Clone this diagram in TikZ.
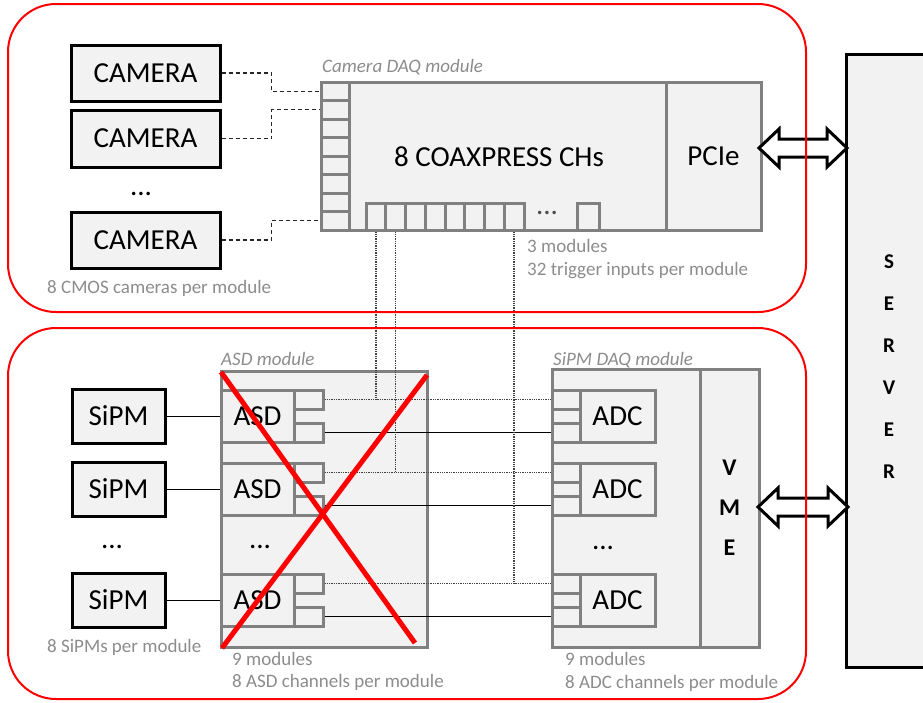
\documentclass[tikz,border=0pt]{standalone}
\usepackage{fontspec}
\setmainfont{Carlito}
\usetikzlibrary{calc}
\definecolor{boxfill}{HTML}{F2F2F2}
\definecolor{boxline}{HTML}{808080}
\definecolor{notegray}{HTML}{8C8C8C}
\newcommand\dgmBig{\fontsize{29}{34}\selectfont}
\newcommand\dgmNote{\fontsize{19}{23}\selectfont}
\begin{document}
\begin{tikzpicture}[x=1pt,y=-1pt,
  blkbox/.style={draw=black, line width=3pt, fill=boxfill, inner sep=0pt, font=\dgmBig},
  gbox/.style={draw=boxline, line width=3pt, fill=boxfill, inner sep=0pt, font=\dgmBig},
  note/.style={text=notegray, font=\dgmNote, anchor=base west, inner sep=0pt},
  modlabel/.style={text=notegray, font=\dgmNote\itshape, anchor=base west, inner sep=0pt},
  dots/.style={font=\dgmBig, inner sep=0pt},
  dashconn/.style={draw=black!85, line width=1.2pt, dash pattern=on 4pt off 3pt},
  dotconn/.style={draw=black!75, line width=1.3pt, dash pattern=on 1.3pt off 1pt},
  solidconn/.style={draw=black, line width=1pt},
  redframe/.style={draw=red, line width=2pt, rounded corners=48pt},
  cross/.style={draw=red, line width=5pt},
  bigarrow/.style={draw=black, line width=3pt, fill=white, line join=miter}]
\useasboundingbox (0,0) rectangle (923,702);

% ---------- Cameras ----------
\node[blkbox, minimum width=149pt, minimum height=56pt] (cam1) at (145.5,73) {CAMERA};
\node[blkbox, minimum width=149pt, minimum height=57pt] (cam2) at (145.5,138.5) {CAMERA};
\node[blkbox, minimum width=149pt, minimum height=56pt] (cam3) at (145.5,240) {CAMERA};
\node[dots] (camdots) at (141,194) {...};
\node[note] (camnote) at (47,293) {8 CMOS cameras per module};

% ---------- Camera DAQ module ----------
\node[modlabel] (camlabel) at (322,72) {Camera DAQ module};
\node[gbox, minimum width=440pt, minimum height=148pt] (camdaq) at (541,156) {};
\node[gbox, minimum width=95pt, minimum height=148pt] (pcie) at (713.5,156) {PCIe};
\node[font=\dgmBig, inner sep=0pt] (coax) at (499,157) {8 COAXPRESS CHs};
\foreach \i in {1,...,8}
  \node[gbox, minimum width=28pt, minimum height=18.5pt] (cp\i) at (335,{82+18.5*\i-9.25}) {};
\foreach \i in {1,...,8}
  \node[gbox, minimum width=19.75pt, minimum height=27pt] (tp\i) at ({366+19.75*\i-9.875},216.5) {};
\node[gbox, minimum width=22pt, minimum height=27pt] (tp9) at (588,216.5) {};
\node[dots, text=black!70] (tpdots) at (547,213) {...};
\node[note] (trignote1) at (527,252) {3 modules};
\node[note] (trignote2) at (527,275) {32 trigger inputs per module};

% camera links
\draw[dashconn] (cam1.east) -- ++(50,0) |- (cp1.west);
\draw[dashconn] (cam2.east) -- ++(50,0) |- (cp2.west);
\draw[dashconn] (cam3.east) -- ++(50,0) |- (cp8.west);

% ---------- SiPMs ----------
\node[blkbox, minimum width=93pt, minimum height=54pt] (sipm1) at (118.5,416) {SiPM};
\node[blkbox, minimum width=93pt, minimum height=54pt] (sipm2) at (118.5,489) {SiPM};
\node[blkbox, minimum width=93pt, minimum height=54pt] (sipm3) at (118.5,600) {SiPM};
\node[dots] (sipmdots) at (112,547) {...};
\node[note] (sipmnote) at (47,652) {8 SiPMs per module};

% ---------- ASD module ----------
\node[modlabel] (asdlabel) at (221,365) {ASD module};
\node[gbox, minimum width=206pt, minimum height=276pt] (asdmod) at (324,509) {};
\foreach \i/\c in {1/416,2/489,3/600} {
  \node[gbox, minimum width=73pt, minimum height=52pt] (asd\i) at (257.5,\c) {ASD};
  \node[gbox, minimum width=29pt, minimum height=19pt] (asdu\i) at (308.5,\c-16.5) {};
  \node[gbox, minimum width=29pt, minimum height=19pt] (asdl\i) at (308.5,\c+16.5) {};
}
\node[dots] (asddots) at (260,547) {...};
\node[note] (asdnote1) at (232,665) {9 modules};
\node[note] (asdnote2) at (232,687) {8 ASD channels per module};

% ---------- SiPM DAQ module ----------
\node[modlabel] (sdaqlabel) at (553,365) {SiPM DAQ module};
\node[gbox, minimum width=207pt, minimum height=278pt] (sdaq) at (655.5,508) {};
\node[gbox, minimum width=59pt, minimum height=278pt, font=\fontsize{24}{40}\selectfont\bfseries, align=center] (vme) at (729.5,508) {V\\M\\E};
\foreach \i/\c in {1/416,2/489,3/600} {
  \node[gbox, minimum width=75pt, minimum height=52pt] (adc\i) at (617.5,\c) {ADC};
  \node[gbox, minimum width=28pt, minimum height=19pt] (adcu\i) at (566,\c-16.5) {};
  \node[gbox, minimum width=28pt, minimum height=19pt] (adcl\i) at (566,\c+16.5) {};
}
\node[dots] (adcdots) at (603,548) {...};
\node[note] (adcnote1) at (565,665) {9 modules};
\node[note] (adcnote2) at (565,688) {8 ADC channels per module};

% ---------- links SiPM -> ASD -> ADC ----------
\foreach \i in {1,2,3} {
  \draw[solidconn] (sipm\i.east) -- (asd\i.west);
  \draw[dotconn] (asdu\i.east) -- (adcu\i.west);
  \draw[solidconn] (asdl\i.east) -- (adcl\i.west);
}
\draw[dotconn] (tp1.south) -- (tp1.south |- asdu1.east);
\draw[dotconn] (tp2.south) -- (tp2.south |- asdu2.east);
\draw[dotconn] (tp8.south) -- (tp8.south |- asdu3.east);

% ---------- Server ----------
\node[fill=boxfill, inner sep=0pt, minimum width=76.5pt, minimum height=612pt] (server) at (885.25,361) {};
\draw[black, line width=3pt] (server.north east) -- (server.north west) -- (server.south west) -- (server.south east);
\node[font=\fontsize{21}{42}\selectfont\bfseries, align=center, inner sep=0pt] (servertxt) at (889,367) {S\\E\\R\\V\\E\\R};

% ---------- double arrows ----------
\coordinate (tal) at (759,148);
\coordinate (tar) at (847,148);
\coordinate (bal) at (758,507);
\coordinate (bar) at (848,507);
\draw[bigarrow] (tal) -- ++(20,-19) -- ++(0,10) -- ($(tar)+(-20,-9)$) -- ++(0,-10) -- (tar)
  -- ++(-20,19) -- ++(0,-10) -- ($(tal)+(20,9)$) -- ++(0,10) -- cycle;
\draw[bigarrow] (bal) -- ++(20,-19) -- ++(0,10) -- ($(bar)+(-20,-9)$) -- ++(0,-10) -- (bar)
  -- ++(-20,19) -- ++(0,-10) -- ($(bal)+(20,9)$) -- ++(0,10) -- cycle;

% ---------- red frames and cross ----------
\draw[redframe] (8,4) rectangle (806,312);
\draw[redframe] (8,328) rectangle (806,699);
\draw[cross] (221,372) -- (415,643);
\draw[cross] (427,375) -- (222,648);
\end{tikzpicture}
\end{document}
